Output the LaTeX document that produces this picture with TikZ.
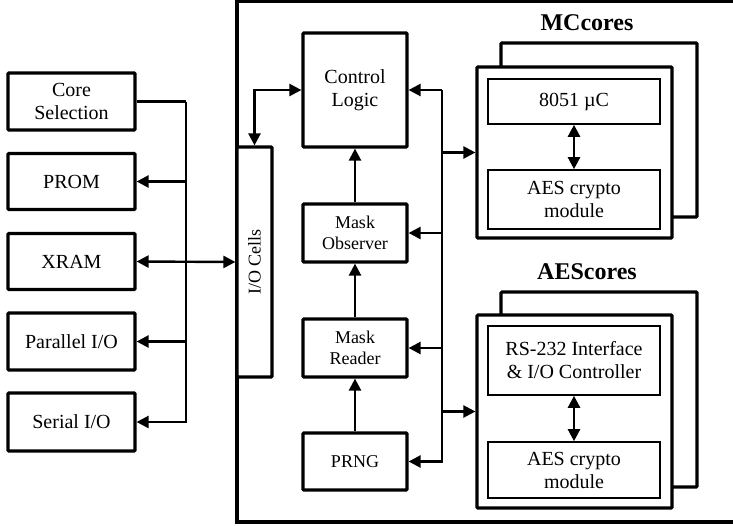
\documentclass[tikz,border=0pt]{standalone}
\usepackage{fontspec}
\setmainfont{Liberation Serif}
\usetikzlibrary{arrows.meta}
\begin{document}
\begin{tikzpicture}[x=1pt,y=-1pt,
  box/.style={draw, line width=3.2pt, fill=white, align=center, inner sep=0pt, rounded corners=1pt, font=\fontsize{20}{23}\selectfont},
  ibox/.style={draw, line width=1.6pt, fill=white, align=center, inner sep=0pt, font=\fontsize{20}{23}\selectfont},
  sbox/.style={box, font=\fontsize{18}{21}\selectfont},
  conn/.style={line width=2.4pt},
  arr/.style={conn, -{Triangle[length=12pt,width=12pt]}},
  darr/.style={conn, {Triangle[length=12pt,width=12pt]}-{Triangle[length=12pt,width=12pt]}},
  lbl/.style={font=\bfseries\fontsize{24}{28}\selectfont, inner sep=0pt}
  ]
\useasboundingbox (0,0) rectangle (733,525);
% outer frame
\draw[line width=3.2pt] (745,1.5) -- (237,1.5) -- (237,522) -- (745,522);

% left boxes
\node[box, minimum width=127pt, minimum height=57pt] (core) at (71.5,101.5) {Core\\Selection};
\node[box, minimum width=127pt, minimum height=56pt] (prom) at (71.5,181.5) {PROM};
\node[box, minimum width=127pt, minimum height=56pt] (xram) at (71.5,261.5) {XRAM};
\node[box, minimum width=127pt, minimum height=57pt] (par) at (71.5,341.5) {Parallel I/O};
\node[box, minimum width=127pt, minimum height=58pt] (ser) at (71.5,422) {Serial I/O};

% I/O cells
\node[sbox, minimum width=35pt, minimum height=230pt] (io) at (254.5,262) {\rotatebox{90}{I/O Cells}};

% middle column
\node[box, minimum width=104pt, minimum height=114pt] (ctrl) at (355,90) {Control\\Logic};
\node[sbox, minimum width=104pt, minimum height=58pt] (mo) at (355,233) {Mask\\Observer};
\node[sbox, minimum width=104pt, minimum height=58pt] (mr) at (355,348) {Mask\\Reader};
\node[sbox, minimum width=104pt, minimum height=57pt] (prng) at (355,461.5) {PRNG};

% MCcores
\node[lbl] (mcl) at (587,23) {MCcores};
\node[box, minimum width=196pt, minimum height=174pt] (mcb) at (599,130) {};
\node[box, minimum width=195pt, minimum height=171pt] (mc) at (574.5,152.5) {};
\node[ibox, minimum width=172pt, minimum height=45pt] (uc) at (574,101.5) {8051 µC};
\node[ibox, minimum width=172pt, minimum height=59pt] (aes1) at (574,199.5) {AES crypto\\module};
\draw[darr] (uc) -- (aes1);

% AEScores
\node[lbl] (ael) at (587,272) {AEScores};
\node[box, minimum width=196pt, minimum height=195pt] (aeb) at (599,389.5) {};
\node[box, minimum width=195pt, minimum height=193pt] (ae) at (574.5,411.5) {};
\node[ibox, minimum width=172pt, minimum height=69pt] (rs) at (574,360.5) {RS-232 Interface\\\& I/O Controller};
\node[ibox, minimum width=172pt, minimum height=56pt] (aes2) at (574,470) {AES crypto\\module};
\draw[darr] (rs) -- (aes2);

% left bus
\coordinate (lb) at (186,101.5);
\draw[conn] (core.east) -- (lb);
\draw[arr] (lb) |- (ser.east);
\draw[arr] (prom.east -| lb) -- (prom.east);
\draw[arr] (par.east -| lb) -- (par.east);
\draw[darr] (xram.east) -- (io.west);

% I/O to control
\draw[darr] (io.north) |- (ctrl.west);

% middle arrows
\draw[arr] (mo) -- (ctrl);
\draw[arr] (mr) -- (mo);
\draw[arr] (prng) -- (mr);

% right bus
\coordinate (rb) at (442,90);
\draw[arr] (rb) -- (ctrl.east);
\draw[arr] (rb) |- (prng.east);
\draw[arr] (mo.east -| rb) -- (mo.east);
\draw[arr] (mr.east -| rb) -- (mr.east);
\draw[arr] (mc.west -| rb) -- (mc.west);
\draw[arr] (ae.west -| rb) -- (ae.west);
\end{tikzpicture}
\end{document}
